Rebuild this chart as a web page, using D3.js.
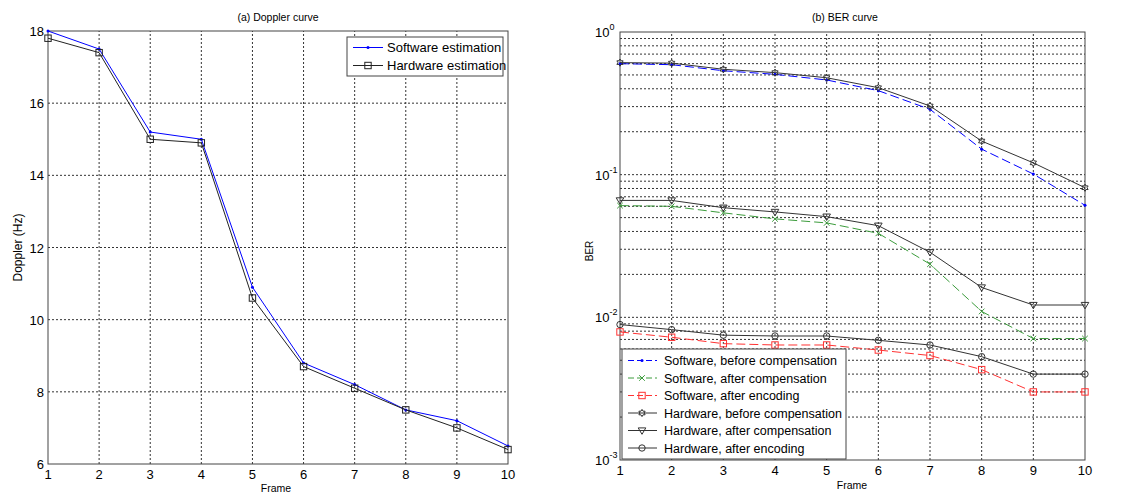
<!DOCTYPE html>
<html>
<head>
<meta charset="utf-8">
<script src="https://cdn.jsdelivr.net/npm/d3@7"></script>
<style>
  body { margin: 0; background: #fff; }
  svg { display: block; font-family: "Liberation Sans", Arial, sans-serif; }
</style>
</head>
<body>
<div class="chart-container"></div>
<script>
// frames shared by both panels
const frames = [1, 2, 3, 4, 5, 6, 7, 8, 9, 10];

// (a) Doppler curve, Hz
const dopplerSoftware = [18.0, 17.5, 15.2, 15.0, 10.9, 8.8, 8.2, 7.5, 7.2, 6.5];
const dopplerHardware = [17.8, 17.4, 15.0, 14.9, 10.6, 8.7, 8.1, 7.5, 7.0, 6.4];
const dopplerTicks = [6, 8, 10, 12, 14, 16, 18];

// (b) BER curve
const swBefore = [0.60, 0.59, 0.535, 0.505, 0.461, 0.388, 0.287, 0.151, 0.101, 0.061];
const swAfterComp = [0.0607, 0.060, 0.054, 0.049, 0.0459, 0.0388, 0.0236, 0.011, 0.0071, 0.0071];
const swAfterEnc = [0.0079, 0.00725, 0.00654, 0.0064, 0.0064, 0.0059, 0.0054, 0.0043, 0.0030, 0.0030];
const hwBefore = [0.61, 0.605, 0.548, 0.519, 0.478, 0.407, 0.303, 0.172, 0.121, 0.081];
const hwAfterComp = [0.066, 0.066, 0.0587, 0.0548, 0.0508, 0.0439, 0.0286, 0.0162, 0.0122, 0.0122];
const hwAfterEnc = [0.0089, 0.0082, 0.0075, 0.0074, 0.0074, 0.0069, 0.0064, 0.0053, 0.0040, 0.0040];
const berExponents = [0, -1, -2, -3];

const W = 1128, H = 496;

const svg = d3.select('.chart-container').append('svg')
    .attr('width', W)
    .attr('height', H)
    .attr('viewBox', [0, 0, W, H]);

// hexagram path for the "h" marker
function hexagram(r) {
    const pts = [];
    for (let i = 0; i < 12; i++) {
        const a = Math.PI / 6 * i - Math.PI / 2;
        const rr = i % 2 === 0 ? r : r * 0.58;
        pts.push([rr * Math.cos(a), rr * Math.sin(a)]);
    }
    return 'M' + pts.map(p => p.join(',')).join('L') + 'Z';
}

function marker(g, type, x, y, color) {
    if (type === 'dot') {
        g.append('circle').attr('cx', x).attr('cy', y).attr('r', 1.5).attr('fill', color);
    } else if (type === 'square') {
        g.append('rect').attr('x', x - 3.2).attr('y', y - 3.2).attr('width', 6.4).attr('height', 6.4)
            .attr('fill', 'none').attr('stroke', color).attr('stroke-width', 1);
    } else if (type === 'x') {
        g.append('path').attr('d', `M${x - 2.8},${y - 2.8}L${x + 2.8},${y + 2.8}M${x - 2.8},${y + 2.8}L${x + 2.8},${y - 2.8}`)
            .attr('stroke', color).attr('stroke-width', 1);
    } else if (type === 'circle') {
        g.append('circle').attr('cx', x).attr('cy', y).attr('r', 3.2)
            .attr('fill', 'none').attr('stroke', color).attr('stroke-width', 1);
    } else if (type === 'tri') {
        g.append('path').attr('d', `M${x - 3.8},${y - 2.6}L${x + 3.8},${y - 2.6}L${x},${y + 3.8}Z`)
            .attr('fill', 'none').attr('stroke', color).attr('stroke-width', 1);
    } else if (type === 'hex') {
        g.append('path').attr('d', hexagram(3.6)).attr('transform', `translate(${x},${y})`)
            .attr('fill', 'none').attr('stroke', color).attr('stroke-width', 1);
    }
}

function frameBox(g, x0, x1, y0, y1) {
    g.append('rect')
        .attr('x', x0).attr('y', y1)
        .attr('width', x1 - x0).attr('height', y0 - y1)
        .attr('fill', 'none').attr('stroke', '#444').attr('stroke-width', 1);
}

const gridStyle = sel => sel.attr('stroke', '#333').attr('stroke-width', 1).attr('stroke-dasharray', '2,2');

// ---------------- (a) Doppler ----------------
const xa = d3.scaleLinear().domain([1, 10]).range([48, 508]);
const ya = d3.scaleLinear().domain([6, 18]).range([464, 31]);
const ga = svg.append('g');

ga.selectAll('.gx').data(frames.slice(1, -1)).join('line')
    .attr('x1', d => xa(d)).attr('x2', d => xa(d))
    .attr('y1', ya(6)).attr('y2', ya(18)).call(gridStyle);
ga.selectAll('.gy').data(dopplerTicks.slice(1, -1)).join('line')
    .attr('x1', xa(1)).attr('x2', xa(10))
    .attr('y1', d => ya(d)).attr('y2', d => ya(d)).call(gridStyle);
frameBox(ga, xa(1), xa(10), ya(6), ya(18));

ga.selectAll('.tx').data(frames).join('text')
    .attr('x', d => xa(d)).attr('y', ya(6) + 15)
    .attr('text-anchor', 'middle').attr('font-size', 13).text(d => d);
ga.selectAll('.ty').data(dopplerTicks).join('text')
    .attr('x', xa(1) - 4).attr('y', d => ya(d) + 5)
    .attr('text-anchor', 'end').attr('font-size', 13).text(d => d);

ga.append('text').attr('x', 278).attr('y', 21).attr('text-anchor', 'middle')
    .attr('font-size', 10.5).text('(a) Doppler curve');
ga.append('text').attr('x', 276).attr('y', 492).attr('text-anchor', 'middle')
    .attr('font-size', 10.5).text('Frame');
ga.append('text').attr('transform', `translate(22,${(ya(6) + ya(18)) / 2}) rotate(-90)`)
    .attr('text-anchor', 'middle').attr('font-size', 12).text('Doppler (Hz)');

const dopplerSeries = [
    { name: 'Software estimation', values: dopplerSoftware, color: '#0000ff', mark: 'dot' },
    { name: 'Hardware estimation', values: dopplerHardware, color: '#222', mark: 'square' }
];
const lineA = d3.line().x((d, i) => xa(frames[i])).y(d => ya(d));
dopplerSeries.forEach(s => {
    ga.append('path').attr('d', lineA(s.values)).attr('fill', 'none')
        .attr('stroke', s.color).attr('stroke-width', 1);
    s.values.forEach((v, i) => marker(ga, s.mark, xa(frames[i]), ya(v), s.color));
});

const legA = ga.append('g');
legA.append('rect').attr('x', 347).attr('y', 37).attr('width', 156).attr('height', 39)
    .attr('fill', '#fff').attr('stroke', '#444');
dopplerSeries.forEach((s, i) => {
    const y = 47.5 + i * 18;
    legA.append('line').attr('x1', 353).attr('x2', 383).attr('y1', y).attr('y2', y)
        .attr('stroke', s.color);
    marker(legA, s.mark, 368, y, s.color);
    legA.append('text').attr('x', 387).attr('y', y + 4.5).attr('font-size', 13).text(s.name);
});

// ---------------- (b) BER ----------------
const xb = d3.scaleLinear().domain([1, 10]).range([620, 1085]);
const yb = d3.scaleLog().domain([1e-3, 1]).range([460, 32]);
const gb = svg.append('g');

const minor = [];
[-3, -2, -1].forEach(e => { for (let k = 2; k <= 9; k++) minor.push(k * Math.pow(10, e)); });
const gridY = minor.concat([1e-2, 1e-1]);

gb.selectAll('.gx').data(frames.slice(1, -1)).join('line')
    .attr('x1', d => xb(d)).attr('x2', d => xb(d))
    .attr('y1', yb(1e-3)).attr('y2', yb(1)).call(gridStyle);
gb.selectAll('.gy').data(gridY).join('line')
    .attr('x1', xb(1)).attr('x2', xb(10))
    .attr('y1', d => yb(d)).attr('y2', d => yb(d)).call(gridStyle);
frameBox(gb, xb(1), xb(10), yb(1e-3), yb(1));

gb.selectAll('.tx').data(frames).join('text')
    .attr('x', d => xb(d)).attr('y', yb(1e-3) + 15)
    .attr('text-anchor', 'middle').attr('font-size', 13).text(d => d);
const tyb = gb.selectAll('.ty').data(berExponents).join('text')
    .attr('x', xb(1) - 25).attr('y', d => yb(Math.pow(10, d)) + 5)
    .attr('font-size', 13);
tyb.append('tspan').text('10');
tyb.append('tspan').attr('dy', -7).attr('font-size', 9).text(d => d);

gb.append('text').attr('x', 845).attr('y', 21).attr('text-anchor', 'middle')
    .attr('font-size', 10.5).text('(b) BER curve');
gb.append('text').attr('x', 852).attr('y', 489).attr('text-anchor', 'middle')
    .attr('font-size', 10.5).text('Frame');
gb.append('text').attr('transform', `translate(593,251) rotate(-90)`)
    .attr('text-anchor', 'middle').attr('font-size', 10).text('BER');

const berSeries = [
    { name: 'Software, before compensation', values: swBefore, color: '#0000ff', mark: 'dot', dash: '9,4' },
    { name: 'Software, after compensation', values: swAfterComp, color: '#3c9c3c', mark: 'x', dash: '9,4' },
    { name: 'Software, after encoding', values: swAfterEnc, color: '#ff3333', mark: 'square', dash: '9,4' },
    { name: 'Hardware, before compensation', values: hwBefore, color: '#333', mark: 'hex', dash: null },
    { name: 'Hardware, after compensation', values: hwAfterComp, color: '#333', mark: 'tri', dash: null },
    { name: 'Hardware, after encoding', values: hwAfterEnc, color: '#333', mark: 'circle', dash: null }
];
const lineB = d3.line().x((d, i) => xb(frames[i])).y(d => yb(d));
berSeries.forEach(s => {
    gb.append('path').attr('d', lineB(s.values)).attr('fill', 'none')
        .attr('stroke', s.color).attr('stroke-width', 1)
        .attr('stroke-dasharray', s.dash);
    s.values.forEach((v, i) => marker(gb, s.mark, xb(frames[i]), yb(v), s.color));
});

const legB = gb.append('g');
legB.append('rect').attr('x', 622).attr('y', 349).attr('width', 224).attr('height', 110)
    .attr('fill', '#fff').attr('stroke', '#444');
berSeries.forEach((s, i) => {
    const y = 360.5 + i * 17.5;
    legB.append('line').attr('x1', 628).attr('x2', 657).attr('y1', y).attr('y2', y)
        .attr('stroke', s.color).attr('stroke-dasharray', s.dash ? '6,3' : null);
    marker(legB, s.mark, 642, y, s.color);
    legB.append('text').attr('x', 664).attr('y', y + 4.5).attr('font-size', 12.5).text(s.name);
});
</script>
</body>
</html>
